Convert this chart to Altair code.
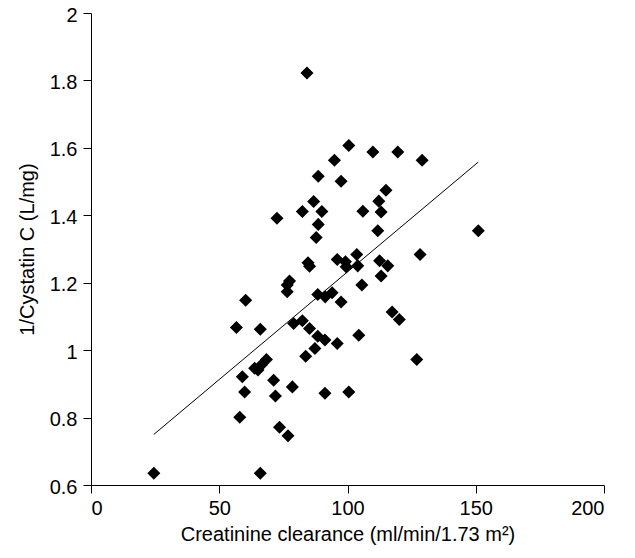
import altair as alt
import pandas as pd

crcl = [84.2, 100.5, 94.9, 88.6, 97.5, 86.8, 82.4, 90.0, 72.5, 88.6,
        87.8, 84.6, 85.2, 96.0, 99.2, 99.5, 77.4, 76.5, 76.5, 60.3,
        88.4, 91.3, 94.0, 97.5, 56.7, 66.0, 79.0, 82.4, 85.2, 88.4,
        91.2, 87.3, 96.0, 83.7, 68.4, 66.4, 63.8, 65.1, 59.0, 71.2,
        78.5, 59.9, 71.9, 91.2, 100.5, 58.0, 73.5, 76.8, 24.5, 66.0,
        109.9, 119.6, 129.1, 115.0, 112.2, 106.0, 113.1, 111.8, 151.0, 103.6,
        104.0, 112.5, 115.7, 113.1, 128.3, 105.6, 117.4, 120.2, 104.4, 127.0]
inv_cysc = [1.822, 1.607, 1.563, 1.516, 1.501, 1.441, 1.411, 1.411, 1.391, 1.373,
            1.334, 1.259, 1.249, 1.269, 1.262, 1.247, 1.205, 1.193, 1.173, 1.148,
            1.165, 1.158, 1.170, 1.143, 1.067, 1.062, 1.079, 1.087, 1.064, 1.041,
            1.030, 1.005, 1.020, 0.982, 0.972, 0.956, 0.946, 0.941, 0.921, 0.911,
            0.891, 0.876, 0.864, 0.872, 0.876, 0.801, 0.771, 0.746, 0.635, 0.635,
            1.588, 1.588, 1.563, 1.474, 1.442, 1.412, 1.410, 1.354, 1.354, 1.284,
            1.250, 1.265, 1.250, 1.220, 1.284, 1.193, 1.113, 1.091, 1.044, 0.972]

fit_x = [24.5, 151.0]
fit_y = [0.750, 1.558]

x_ticks = [0, 50, 100, 150, 200]
y_ticks = [0.6, 0.8, 1.0, 1.2, 1.4, 1.6, 1.8, 2.0]

pts = pd.DataFrame({"x": crcl, "y": inv_cysc})
fit = pd.DataFrame({"x": fit_x, "y": fit_y})

xscale = alt.Scale(domain=[0, 200], nice=False, zero=False)
yscale = alt.Scale(domain=[0.6, 2.0], nice=False, zero=False)

xaxis = alt.Axis(values=x_ticks, title="Creatinine clearance (ml/min/1.73 m²)",
                 grid=False, titlePadding=6, labelPadding=5, tickSize=8)
yaxis = alt.Axis(values=y_ticks, format="~g", title="1/Cystatin C (L/mg)",
                 grid=False, titlePadding=12, labelPadding=6, tickSize=8,
                 labelOffset=2)

points = alt.Chart(pts).mark_point(shape="diamond", filled=True, color="black",
                                   size=170, opacity=1).encode(
    x=alt.X("x:Q", scale=xscale, axis=xaxis),
    y=alt.Y("y:Q", scale=yscale, axis=yaxis),
)

line = alt.Chart(fit).mark_line(color="black", strokeWidth=1).encode(
    x=alt.X("x:Q", scale=xscale),
    y=alt.Y("y:Q", scale=yscale),
)

chart = (points + line).properties(
    width=513, height=472,
    autosize="none",
    padding={"left": 83, "top": 5, "right": 20, "bottom": 60},
).configure_view(stroke=None).configure_axis(
    domainColor="black", tickColor="black", labelColor="black", titleColor="black",
    labelFont="Liberation Sans", titleFont="Liberation Sans",
    labelFontSize=20, titleFontSize=20, titleFontWeight="normal",
    domainWidth=1, tickWidth=1,
)

chart.save("out.html", embed_options={"renderer": "svg", "actions": False})
